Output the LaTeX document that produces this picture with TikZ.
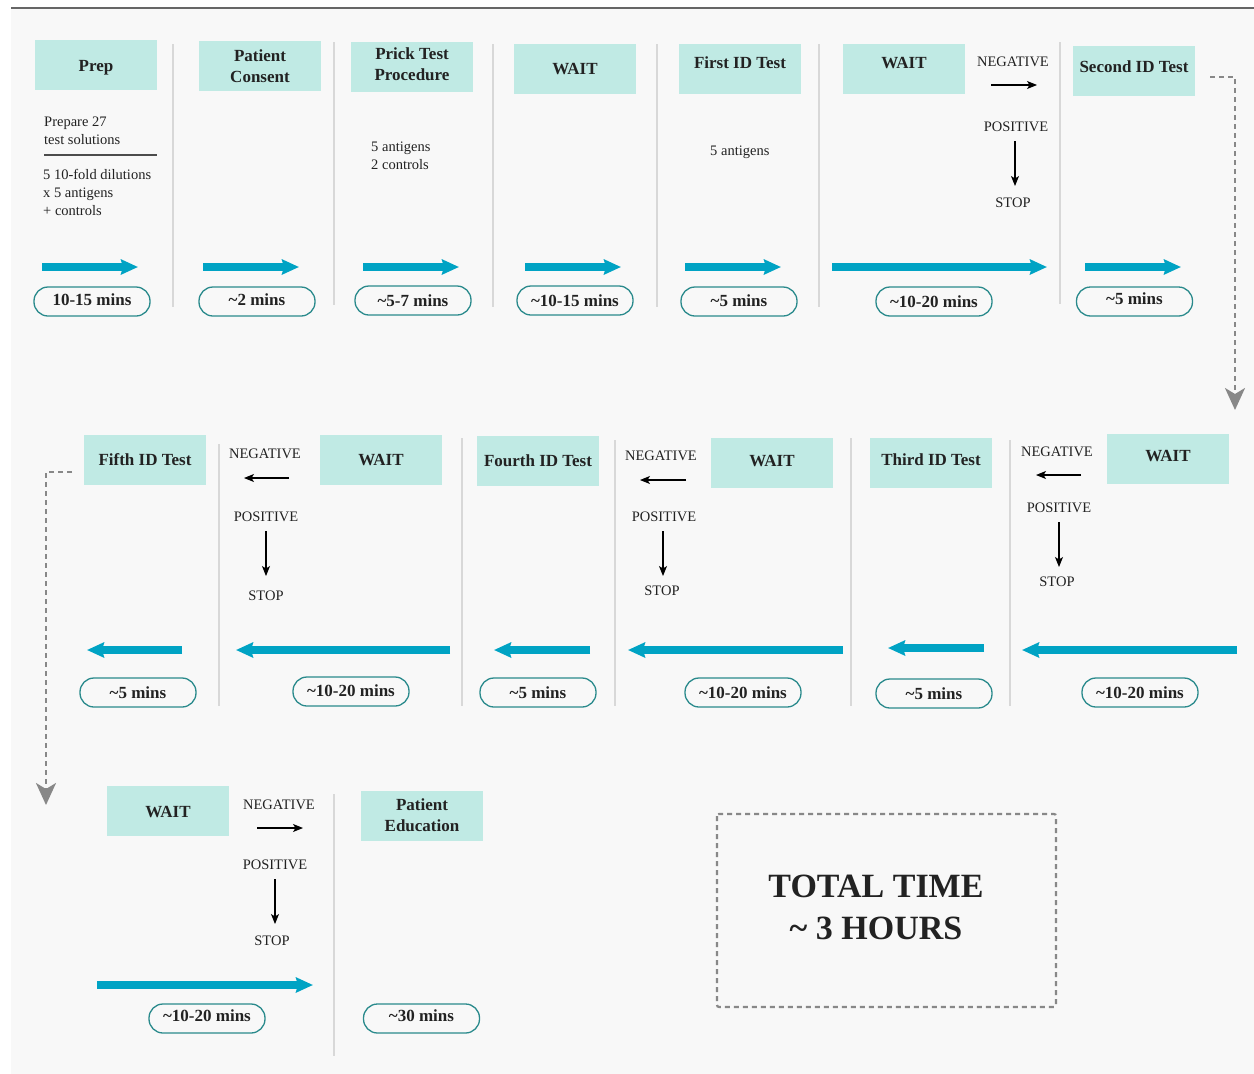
\documentclass[tikz,border=0pt]{standalone}
\usepackage{fontspec}
\setmainfont{Liberation Serif}
\usetikzlibrary{arrows.meta}
\definecolor{boxc}{HTML}{C0EAE4}
\definecolor{tealc}{HTML}{00A3C4}
\definecolor{pillc}{HTML}{2A8A8C}
\definecolor{bgc}{HTML}{F8F8F8}
\definecolor{sepc}{HTML}{D8D8D8}
\definecolor{txtc}{HTML}{222222}
\definecolor{dashc}{HTML}{888888}
\newcommand{\tl}{\textasciitilde}
\newcommand{\rz}[2]{\raisebox{#1pt}[\height][\depth]{#2}}
\tikzset{
  hdr/.style={fill=boxc, minimum width=122pt, minimum height=50pt, inner sep=2pt, align=center,
    font=\fontsize{17}{21}\selectfont\bfseries, text=txtc},
  pill/.style={draw=pillc, line width=1.3pt, fill=bgc, rounded corners=14pt, minimum width=116pt,
    minimum height=29pt, inner sep=0pt, font=\fontsize{17}{19}\selectfont\bfseries, text=txtc},
  small/.style={font=\fontsize{14.5}{18}\selectfont, text=txtc, inner sep=0pt},
  tarrow/.style={draw=tealc, line width=7.5pt, -{Stealth[length=17pt,width=15pt,inset=2pt]}},
  sepline/.style={draw=sepc, line width=1.5pt},
  barrow/.style={draw=black, line width=1.1pt, -{Stealth[length=10pt,width=8pt,inset=2.5pt]}},
  dconn/.style={draw=dashc, line width=2.4pt, dash pattern=on 5pt off 4pt,
    -{Stealth[length=22pt,width=20pt,inset=6pt,sep=0pt]}},
  x=1pt, y=-1pt
}
\begin{document}
\begin{tikzpicture}
\useasboundingbox (0,0) rectangle (1254,1074);
\fill[white] (0,0) rectangle (1254,1074);
\fill[bgc] (11,9) rectangle (1254,1074);
\draw[color=black!60, line width=2.5pt] (11,8) -- (1254,8);

% ---------- Row 1 ----------
\node[hdr] (prep) at (96,64.5) {\rz{-3}{Prep}};
\node[hdr] (cons) at (260,66) {Patient\\Consent};
\node[hdr] (prick) at (412,67) {\rz{1}{\begin{tabular}{@{}c@{}}Prick Test\\Procedure\end{tabular}}};
\node[hdr] (wait1) at (575,69) {WAIT};
\node[hdr] (id1) at (740,69) {\rz{6}{First ID Test}};
\node[hdr] (wait2) at (904,69) {\rz{6}{WAIT}};
\node[hdr] (id2) at (1134,71) {\rz{4}{Second ID Test}};

\foreach \x/\a/\b in {173/44/307, 334/42/305, 493/44/307, 657/44/307, 819/44/307, 1060/42/304}
  \draw[sepline] (\x,\a) -- (\x,\b);

\node[small, anchor=base west] (t1) at (44,126) {Prepare 27};
\node[small, anchor=base west] (t2) at (44,144) {test solutions};
\draw[color=black!70, line width=1.4pt] (44,155) -- (157,155);
\node[small, anchor=base west] (t3) at (43,179) {5 10-fold dilutions};
\node[small, anchor=base west] (t4) at (43,197) {x 5 antigens};
\node[small, anchor=base west] (t5) at (43,215) {+ controls};
\node[small, anchor=base west] (t6) at (371,151) {5 antigens};
\node[small, anchor=base west] (t7) at (371,169) {2 controls};
\node[small, anchor=base west] (t8) at (710,155) {5 antigens};

\node[small, anchor=base] (neg1) at (1013,66) {NEGATIVE};
\node[small, anchor=base] (pos1) at (1016,131) {POSITIVE};
\node[small, anchor=base] (stop1) at (1013,207) {STOP};
\coordinate (n1a) at (991,85); \coordinate (n1b) at (1037,85);
\draw[barrow] (n1a) -- (n1b);
\coordinate (p1a) at (1015,141); \coordinate (p1b) at (1015,186);
\draw[barrow] (p1a) -- (p1b);

\foreach \a/\b in {42/138, 203/299, 363/459, 525/621, 685/781, 832/1047, 1085/1181}
  \draw[tarrow] (\a,267) -- (\b,267);

\node[pill] (d1) at (92,301.5) {\rz{1.5}{10-15 mins}};
\node[pill] (d2) at (257,301.5) {\rz{1.5}{\tl2 mins}};
\node[pill] (d3) at (413,300.5) {\tl5-7 mins};
\node[pill] (d4) at (575,300.5) {\tl10-15 mins};
\node[pill] (d5) at (739,301.5) {\rz{1}{\tl5 mins}};
\node[pill] (d6) at (934,301.5) {\tl10-20 mins};
\node[pill] (d7) at (1134.5,301.5) {\rz{3}{\tl5 mins}};

\coordinate (c1s) at (1210,77);
\coordinate (c1e) at (1235,410);
\draw[dconn] (c1s) -| (c1e);

% ---------- Row 2 ----------
\node[hdr] (id5) at (145,460) {Fifth ID Test};
\node[hdr] (wait5) at (381,460) {WAIT};
\node[hdr] (id4) at (538,461) {Fourth ID Test};
\node[hdr] (wait4) at (772,463) {\rz{2}{WAIT}};
\node[hdr] (id3) at (931,463) {\rz{3}{Third ID Test}};
\node[hdr] (wait3) at (1168,459) {\rz{3}{WAIT}};

\foreach \x/\a/\b in {219/444/706, 462/438/706, 615/440/706, 851/438/706, 1010/440/706}
  \draw[sepline] (\x,\a) -- (\x,\b);

\node[small, anchor=base] (neg5) at (265,458) {NEGATIVE};
\node[small, anchor=base] (pos5) at (266,521) {POSITIVE};
\node[small, anchor=base] (stop5) at (266,600) {STOP};
\coordinate (n5a) at (289,478); \coordinate (n5b) at (244,478);
\draw[barrow] (n5a) -- (n5b);
\coordinate (p5a) at (266,531); \coordinate (p5b) at (266,576);
\draw[barrow] (p5a) -- (p5b);

\node[small, anchor=base] (neg4) at (661,460) {NEGATIVE};
\node[small, anchor=base] (pos4) at (664,521) {POSITIVE};
\node[small, anchor=base] (stop4) at (662,595) {STOP};
\coordinate (n4a) at (686,480); \coordinate (n4b) at (640,480);
\draw[barrow] (n4a) -- (n4b);
\coordinate (p4a) at (663,531); \coordinate (p4b) at (663,576);
\draw[barrow] (p4a) -- (p4b);

\node[small, anchor=base] (neg3) at (1057,456) {NEGATIVE};
\node[small, anchor=base] (pos3) at (1059,512) {POSITIVE};
\node[small, anchor=base] (stop3) at (1057,586) {STOP};
\coordinate (n3a) at (1081,475); \coordinate (n3b) at (1036,475);
\draw[barrow] (n3a) -- (n3b);
\coordinate (p3a) at (1059,522); \coordinate (p3b) at (1059,567);
\draw[barrow] (p3a) -- (p3b);

\foreach \a/\b/\y in {182/87/650, 450/236/650, 590/494/650, 843/628/650, 984/888/648, 1237/1022/650}
  \draw[tarrow] (\a,\y) -- (\b,\y);

\node[pill] (e1) at (138,692.5) {\tl5 mins};
\node[pill] (e2) at (351,691.5) {\rz{1}{\tl10-20 mins}};
\node[pill] (e3) at (538,692.5) {\tl5 mins};
\node[pill] (e4) at (743,692.5) {\tl10-20 mins};
\node[pill] (e5) at (934,693.5) {\tl5 mins};
\node[pill] (e6) at (1140,692.5) {\tl10-20 mins};

\coordinate (c2s) at (72,472);
\coordinate (c2e) at (46,805);
\draw[dconn] (c2s) -| (c2e);

% ---------- Row 3 ----------
\node[hdr] (wait6) at (168,810.5) {\rz{-2}{WAIT}};
\node[hdr] (edu) at (422,815.5) {Patient\\Education};
\draw[sepline] (334,794) -- (334,1056);

\node[small, anchor=base] (neg6) at (279,809) {NEGATIVE};
\node[small, anchor=base] (pos6) at (275,869) {POSITIVE};
\node[small, anchor=base] (stop6) at (272,945) {STOP};
\coordinate (n6a) at (257,828); \coordinate (n6b) at (303,828);
\draw[barrow] (n6a) -- (n6b);
\coordinate (p6a) at (275,879); \coordinate (p6b) at (275,924);
\draw[barrow] (p6a) -- (p6b);

\draw[tarrow] (97,985) -- (313,985);
\node[pill] (f1) at (207,1018.5) {\rz{3}{\tl10-20 mins}};
\node[pill] (f2) at (421.5,1018.5) {\rz{3}{\tl30 mins}};

\draw[draw=dashc, line width=2.2pt, dash pattern=on 5pt off 4pt, rounded corners=2pt]
  (717,814) rectangle (1056,1007);
\node[font=\fontsize{34}{42}\selectfont\bfseries, text=txtc, align=center] (total) at (876,907)
  {TOTAL TIME\\\tl\ 3 HOURS};
\end{tikzpicture}
\end{document}
